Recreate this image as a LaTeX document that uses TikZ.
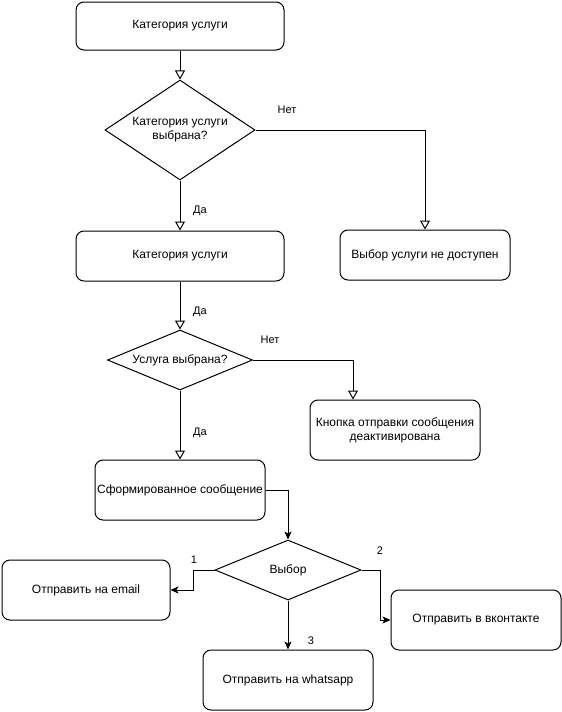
\documentclass[tikz,border=0pt]{standalone}
\usepackage{fontspec}
\setmainfont{Liberation Sans}
\usetikzlibrary{arrows.meta, shapes.geometric}

\begin{document}
\begin{tikzpicture}[
    x=1pt, y=-1pt,
    line width=1pt,
    block/.style={rectangle, draw, rounded corners=8pt, minimum width=170pt, minimum height=60pt, align=center, inner sep=0pt, font=\fontsize{12}{14}\selectfont},
    decision/.style={diamond, draw, inner sep=0pt, align=center, font=\fontsize{12}{14}\selectfont},
    openarrow/.style={-{Triangle[open, length=9pt, width=10pt]}},
    fillarrow/.style={-{Stealth[length=8pt, width=7pt, inset=2pt]}},
    lbl/.style={font=\fontsize{11}{13}\selectfont, inner sep=0pt}
]
    \useasboundingbox (0,0) rectangle (562,712);

    % top part
    \node[block, minimum width=208pt, minimum height=48pt] (category) at (180, 26) {Категория услуги};
    \node[decision, aspect=1.5, minimum width=150pt, minimum height=100pt] (catchosen) at (180, 130) {Категория услуги\\выбрана?};
    \node[block, minimum height=50pt] (notavail) at (425, 255) {Выбор услуги не доступен};
    \node[block, minimum width=208pt, minimum height=50pt] (category2) at (180, 256) {Категория услуги};
    \node[decision, aspect=2.4, minimum width=145pt, minimum height=60pt] (servchosen) at (180, 360) {Услуга выбрана?};
    \node[block] (disabled) at (395, 430) {Кнопка отправки сообщения\\деактивирована};

    % message and channels
    \node[block] (message) at (180, 490) {Сформированное сообщение};
    \node[decision, aspect=2.4, minimum width=146pt, minimum height=60pt] (choice) at (288, 570) {Выбор};
    \node[block, minimum width=168pt] (email) at (86, 590) {Отправить на email};
    \node[block] (vk) at (476, 620) {Отправить в вконтакте};
    \node[block] (whatsapp) at (288, 680) {Отправить на whatsapp};

    \draw[openarrow] (category) -- (catchosen);
    \draw[openarrow] (catchosen.east) -| (notavail.north);
    \draw[openarrow] (catchosen) -- (category2);
    \draw[openarrow] (category2) -- (servchosen);
    \draw[openarrow] (servchosen.east) -| ([xshift=-42pt]disabled.north);
    \draw[openarrow] (servchosen) -- (message);

    \draw[fillarrow] (message.east) -| (choice.north);
    \draw[fillarrow] (choice.west) -- ++(-21,0) |- (email.east);
    \draw[fillarrow] (choice.east) -- ++(19,0) |- (vk.west);
    \draw[fillarrow] (choice) -- (whatsapp);

    \node[lbl] (no1) at (287, 110) {Нет};
    \node[lbl] (yes1) at (200, 211) {Да};
    \node[lbl] (yes2) at (200, 312) {Да};
    \node[lbl] (no2) at (270, 340) {Нет};
    \node[lbl] (yes3) at (200, 433) {Да};
    \node[lbl] (one) at (194, 560) {1};
    \node[lbl] (two) at (380, 551) {2};
    \node[lbl] (three) at (311, 641) {3};
\end{tikzpicture}
\end{document}
